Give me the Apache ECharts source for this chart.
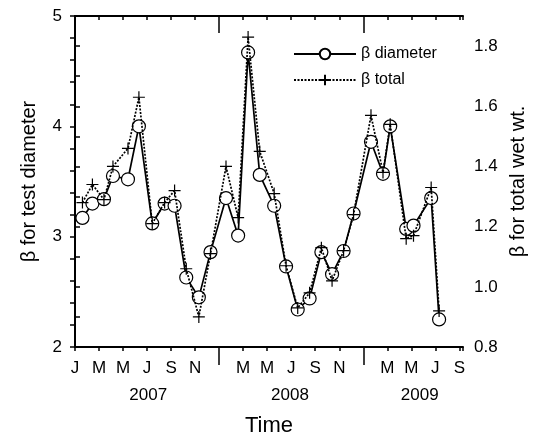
<!DOCTYPE html>
<html>
<head>
<meta charset="utf-8">
<script src="https://cdn.jsdelivr.net/npm/echarts@6/dist/echarts.min.js"></script>
<style>
  html, body { margin: 0; padding: 0; background: #fff; }
  #chart { width: 539px; height: 435px; }
</style>
</head>
<body>
<div id="chart"></div>
<script>
// month index from Jan 2007 (0 = Jan 2007)
const sampleMonths = [0.62, 1.45, 2.41, 3.16, 4.41, 5.32, 6.43, 7.46, 8.29, 9.26, 10.31, 11.28,
  12.57, 13.58, 14.41, 15.38, 16.58, 17.57, 18.54, 19.53, 20.51, 21.40, 22.36, 23.19,
  24.64, 25.64, 26.24, 27.57, 28.18, 29.65, 30.31];
const betaDiameter = [3.17, 3.30, 3.34, 3.55, 3.52, 4.00, 3.12, 3.30, 3.28, 2.63, 2.45, 2.86,
  3.35, 3.01, 4.67, 3.56, 3.28, 2.73, 2.34, 2.44, 2.86, 2.66, 2.87, 3.21,
  3.86, 3.57, 4.00, 3.07, 3.10, 3.35, 2.25];
const betaTotal = [1.28, 1.34, 1.29, 1.40, 1.46, 1.63, 1.21, 1.28, 1.32, 1.06, 0.90, 1.11,
  1.40, 1.23, 1.83, 1.45, 1.31, 1.07, 0.93, 0.98, 1.13, 1.02, 1.12, 1.24,
  1.57, 1.38, 1.54, 1.16, 1.17, 1.33, 0.92];
const monthLetters = ['J', 'F', 'M', 'A', 'M', 'J', 'J', 'A', 'S', 'O', 'N', 'D'];
const yearLabels = ['2007', '2008', '2009'];
const yearLabelPos = [6.1, 17.9, 28.7];
const yearBreaks = [12, 24];

const font = 'Liberation Sans, Arial, sans-serif';
const chart = echarts.init(document.getElementById('chart'), null, { renderer: 'canvas' });

const plusPath = 'path://M5,0 L5,10 M0,5 L10,5';

const option = {
  animation: false,
  textStyle: { fontFamily: font, color: '#000' },
  grid: { left: 75, right: 76, top: 16, bottom: 88, outerBoundsMode: 'none', containLabel: false },
  legend: {
    orient: 'vertical',
    left: 288,
    top: 41,
    itemWidth: 62,
    itemHeight: 13,
    itemGap: 10,
    textStyle: { fontFamily: font, fontSize: 16, color: '#000' },
    data: ['β diameter', 'β total']
  },
  xAxis: [
    {
      type: 'value', position: 'bottom', min: 0, max: 32.3, interval: 2,
      axisLine: { lineStyle: { color: '#000', width: 2 } },
      axisTick: { inside: false, length: 4, lineStyle: { color: '#000', width: 1.5 } },
      splitLine: { show: false },
      axisLabel: {
        fontSize: 17, color: '#000', margin: 13, fontFamily: font,
        formatter: v => {
          if (Math.abs(v - Math.round(v)) > 1e-6) return '';
          const m = Math.round(v);
          if (m % 12 === 0 && m > 0) return '';
          return monthLetters[m % 12];
        }
      },
      name: 'Time', nameLocation: 'middle', nameGap: 68,
      nameTextStyle: { fontSize: 22, color: '#000', fontFamily: font }
    },
    {
      type: 'value', position: 'bottom', min: 0, max: 32.3,
      axisLine: { show: false },
      axisTick: { show: true, inside: false, length: 18, customValues: yearBreaks, lineStyle: { color: '#000', width: 1.5 } },
      splitLine: { show: false },
      axisLabel: {
        customValues: yearLabelPos, margin: 40, fontSize: 17, color: '#000', fontFamily: font,
        formatter: v => yearLabels[yearLabelPos.indexOf(v)] || ''
      }
    },
    {
      type: 'value', position: 'top', min: 0, max: 32.3, interval: 2,
      axisLine: { lineStyle: { color: '#000', width: 2 } },
      axisTick: { inside: true, length: 4, lineStyle: { color: '#000', width: 1.5 } },
      axisLabel: { show: false },
      splitLine: { show: false }
    },
    {
      type: 'value', position: 'top', min: 0, max: 32.3,
      axisLine: { show: false },
      axisTick: { show: true, inside: true, length: 17, customValues: yearBreaks, lineStyle: { color: '#000', width: 1.5 } },
      axisLabel: { show: false },
      splitLine: { show: false }
    }
  ],
  yAxis: [
    {
      type: 'value', position: 'left', min: 2, max: 5, interval: 0.2,
      axisLine: { show: true, lineStyle: { color: '#000', width: 2 } },
      axisTick: { show: true, inside: false, length: 5, lineStyle: { color: '#000', width: 1.5 } },
      splitLine: { show: false },
      axisLabel: {
        fontSize: 17, color: '#000', margin: 13, fontFamily: font,
        formatter: v => Math.abs(v - Math.round(v)) < 1e-6 ? String(Math.round(v)) : ''
      },
      name: 'β for test diameter', nameLocation: 'middle', nameGap: 36,
      nameTextStyle: { fontSize: 20, color: '#000', fontFamily: font }
    },
    {
      type: 'value', position: 'right', min: 0.8, max: 1.9, interval: 0.1,
      axisLine: { show: true, lineStyle: { color: '#000', width: 2 } },
      axisTick: { show: true, inside: false, length: 5, lineStyle: { color: '#000', width: 1.5 } },
      splitLine: { show: false },
      axisLabel: {
        fontSize: 17, color: '#000', margin: 11, fontFamily: font,
        formatter: v => {
          const t = Math.round(v * 10);
          return (t % 2 === 0 && t <= 18) ? (t / 10).toFixed(1) : '';
        }
      },
      name: 'β for total wet wt.', nameLocation: 'middle', nameGap: 45, nameRotate: 90,
      nameTextStyle: { fontSize: 20, color: '#000', fontFamily: font }
    }
  ],
  series: [
    {
      name: 'β diameter', type: 'line', xAxisIndex: 0, yAxisIndex: 0,
      data: sampleMonths.map((m, i) => [m, betaDiameter[i]]),
      symbol: 'circle', symbolSize: 13, showAllSymbol: true,
      lineStyle: { color: '#000', width: 1.7, type: 'solid' },
      itemStyle: { color: '#fff', borderColor: '#000', borderWidth: 1.2 },
      z: 2
    },
    {
      name: 'β total', type: 'line', xAxisIndex: 0, yAxisIndex: 1,
      data: sampleMonths.map((m, i) => [m, betaTotal[i]]),
      symbol: plusPath, symbolSize: 12, showAllSymbol: true,
      lineStyle: { color: '#000', width: 1.7, type: [2, 1.5] },
      itemStyle: { color: 'none', borderColor: '#000', borderWidth: 1.2 },
      z: 3
    }
  ]
};

chart.setOption(option);
</script>
</body>
</html>
